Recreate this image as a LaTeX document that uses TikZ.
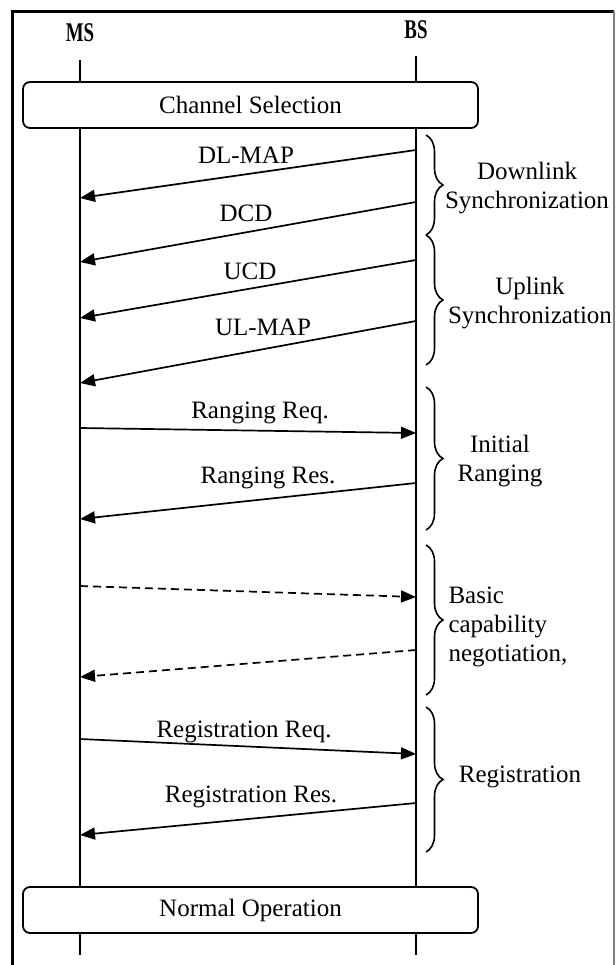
\documentclass[tikz,border=0pt]{standalone}
\usepackage{fontspec}
\setmainfont{Liberation Serif}
\usetikzlibrary{arrows.meta,decorations.pathreplacing}

\tikzset{
  every node/.style={font=\fontsize{25}{29}\selectfont},
  hdr/.style={font=\bfseries\fontsize{27}{29}\selectfont},
  lifeline/.style={line width=1.8pt},
  phase/.style={draw, line width=1.8pt, rounded corners=7pt, fill=white,
    minimum width=455pt, minimum height=46pt, inner sep=0pt},
  msg/.style={line width=1.7pt, -{Triangle[length=15pt,width=12pt]}},
  dmsg/.style={msg, dash pattern=on 8pt off 5pt},
  grp/.style={line width=1.6pt, decorate, decoration={brace, amplitude=17pt}},
}

\begin{document}
\begin{tikzpicture}[x=1pt, y=-1pt]
\useasboundingbox (0,0) rectangle (615,965);

% frame
\draw[line width=3pt] (12.5,965) -- (12.5,11.5) -- (614,11.5);
\draw[gray, line width=1.2pt] (614,11.5) -- (614,965);

% entities and lifelines
\node[hdr] (ms) at (80,33) {\scalebox{0.7}[1]{MS}};
\node[hdr] (bs) at (416,30) {\scalebox{0.7}[1]{BS}};
\coordinate (msTop) at (80,60); \coordinate (msEnd) at (80,955);
\coordinate (bsTop) at (416,56); \coordinate (bsEnd) at (416,955);
\draw[lifeline] (msTop) -- (msEnd);
\draw[lifeline] (bsTop) -- (bsEnd);

% phases
\node[phase] (chsel) at (250.5,105) {Channel Selection};
\node[phase] (normop) at (250.5,910) {Normal Operation};

% messages
\coordinate (b1) at (416,150); \coordinate (m1) at (80,198);
\draw[msg] (b1) -- (m1);
\node (dlmap) at (246,155) {DL-MAP};
\coordinate (b2) at (416,202); \coordinate (m2) at (80,262);
\draw[msg] (b2) -- (m2);
\node (dcd) at (246,213) {DCD};
\coordinate (b3) at (416,260); \coordinate (m3) at (80,318);
\draw[msg] (b3) -- (m3);
\node (ucd) at (250,271) {UCD};
\coordinate (b4) at (416,321); \coordinate (m4) at (80,383);
\draw[msg] (b4) -- (m4);
\node (ulmap) at (263,327) {UL-MAP};

\coordinate (m5) at (80,428); \coordinate (b5) at (416,433);
\draw[msg] (m5) -- (b5);
\node (rngreq) at (260,413) {Ranging Req.};
\coordinate (b6) at (416,483); \coordinate (m6) at (80,519);
\draw[msg] (b6) -- (m6);
\node (rngres) at (268,478) {Ranging Res.};

\coordinate (m7) at (80,586); \coordinate (b7) at (416,597);
\draw[dmsg] (m7) -- (b7);
\coordinate (b8) at (416,650); \coordinate (m8) at (80,677);
\draw[dmsg] (b8) -- (m8);

\coordinate (m9) at (80,739); \coordinate (b9) at (416,754);
\draw[msg] (m9) -- (b9);
\node (regreq) at (244,732) {Registration Req.};
\coordinate (b10) at (416,803); \coordinate (m10) at (80,835);
\draw[msg] (b10) -- (m10);
\node (regres) at (251,797) {Registration Res.};

% groups
\draw[grp] (426,135) -- (426,235);
\node (dlsync) at (527,188) [align=center] {Downlink\\Synchronization};
\draw[grp] (426,235) -- (426,365);
\node (ulsync) at (530,303) [align=center] {Uplink\\Synchronization};
\draw[grp] (426,387) -- (426,530);
\node (initrng) at (500,461) [align=center] {Initial\\Ranging};
\draw[grp] (426,545) -- (426,695);
\node (sbc) at (445,627) [anchor=west, align=left] {Basic\\capability\\negotiation,};
\draw[grp] (426,707) -- (426,852);
\node (reg) at (520,777) {Registration};

\end{tikzpicture}
\end{document}
